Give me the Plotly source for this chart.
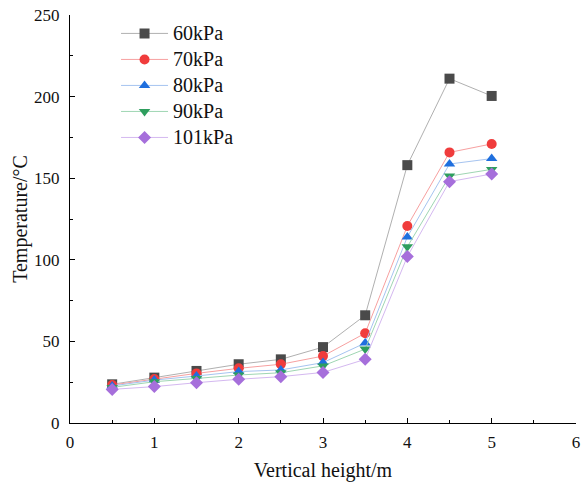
import plotly.graph_objects as go

# Vertical height of the measurement points (m)
height_m = [0.5, 1.0, 1.5, 2.0, 2.5, 3.0, 3.5, 4.0, 4.5, 5.0]

# Temperature (°C) at each height for each ambient pressure
temp_60kpa = [23.7, 27.8, 31.9, 36.0, 39.0, 46.5, 66.0, 158.0, 211.0, 200.4]
temp_70kpa = [23.3, 27.0, 30.4, 33.5, 36.0, 41.0, 55.0, 120.7, 165.8, 171.0]
temp_80kpa = [22.7, 26.3, 28.8, 31.5, 32.5, 37.0, 49.0, 114.0, 158.7, 162.0]
temp_90kpa = [21.8, 25.3, 27.3, 29.4, 30.8, 35.0, 45.3, 108.0, 151.3, 155.4]
temp_101kpa = [20.6, 22.3, 24.7, 26.8, 28.4, 31.0, 39.0, 102.0, 147.9, 152.6]

series_names = ["60kPa", "70kPa", "80kPa", "90kPa", "101kPa"]
series_values = [temp_60kpa, temp_70kpa, temp_80kpa, temp_90kpa, temp_101kpa]
marker_colors = ["#4a4a4a", "#f03c3c", "#1f6fde", "#2e9e5e", "#a66fdb"]
line_colors = ["#b0b0b0", "#f7a0a0", "#a6c4f0", "#9fd6b3", "#d4b8f0"]
symbols = ["square", "circle", "triangle-up", "triangle-down", "diamond"]

FONT = "Liberation Serif, Times New Roman, serif"

fig = go.Figure()
for name, vals, mc, lc, sym in zip(series_names, series_values, marker_colors, line_colors, symbols):
    fig.add_trace(go.Scatter(
        x=height_m, y=vals, mode="lines+markers",
        name=f'<span style="font-size:20px">{name}</span>',
        line=dict(color=lc, width=1),
        marker=dict(symbol=sym, size=10, color=mc, line=dict(width=0)),
        cliponaxis=False,
    ))

axis_common = dict(
    showline=True, linecolor="black", linewidth=1.3, mirror=False,
    showgrid=False, zeroline=False, automargin=False,
    ticks="inside", ticklen=5, tickwidth=1, tickcolor="black",
    tickfont=dict(family=FONT, size=17, color="#111"),
)

fig.update_xaxes(
    range=[0, 6], dtick=1, tick0=0, ticklabelstandoff=3,
    minor=dict(ticks="inside", ticklen=3, tickwidth=1, tickcolor="black", dtick=0.5, showgrid=False),
    title=dict(text="Vertical height/m", font=dict(family=FONT, size=20, color="#111"), standoff=12),
    **axis_common,
)
fig.update_yaxes(
    range=[0, 250], dtick=50, tick0=0, ticklabelstandoff=6,
    minor=dict(ticks="inside", ticklen=3, tickwidth=1, tickcolor="black", dtick=25, showgrid=False),
    title=dict(text="Temperature/°C", font=dict(family=FONT, size=20, color="#111"), standoff=0),
    **axis_common,
)

fig.update_layout(
    width=581, height=487,
    margin=dict(l=70, r=5, t=15, b=64),
    plot_bgcolor="white", paper_bgcolor="white",
    font=dict(family=FONT, color="#111"),
    legend=dict(
        x=0.091, y=0.999, xanchor="left", yanchor="top",
        bgcolor="rgba(0,0,0,0)", borderwidth=0,
        font=dict(family=FONT, size=17.7, color="#111"),
        tracegroupgap=0, itemwidth=47,
    ),
)

fig.write_html("out.html")
